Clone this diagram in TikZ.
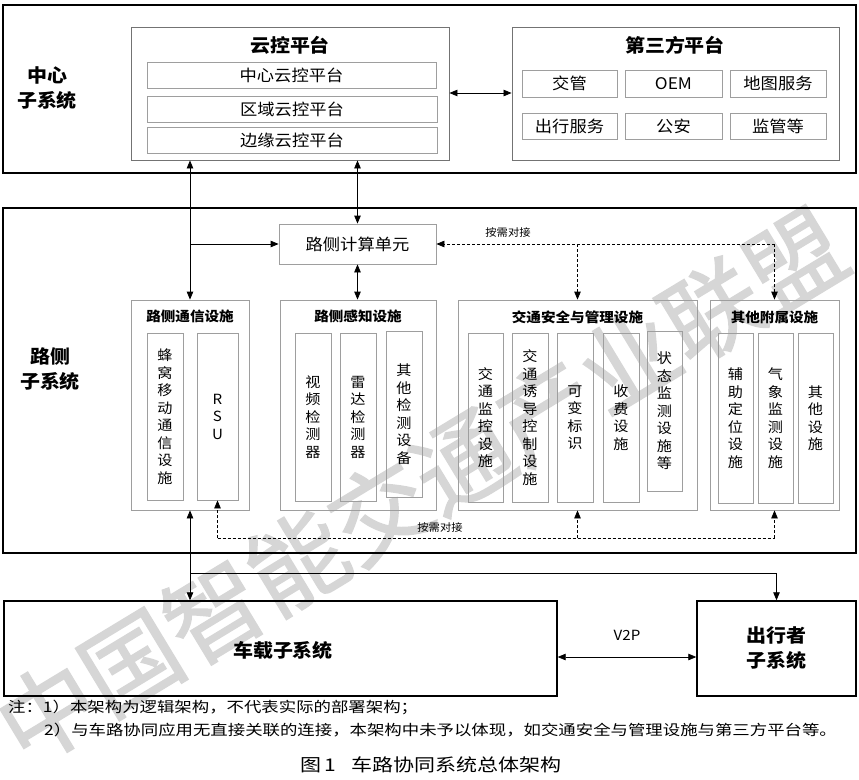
\documentclass[tikz,border=0pt]{standalone}
\usepackage{fontspec}
\setmainfont{Noto Sans CJK SC}[FakeStretch=1.08]
\newfontfamily\notefont{Noto Sans CJK SC}[FakeStretch=1.2]
\newfontfamily\wmfont{Noto Sans CJK SC}[FakeBold=1.5]
\usetikzlibrary{arrows.meta}
\tikzset{
  outerbox/.style={draw=black, line width=1.4pt, inner sep=0pt},
  grpbox/.style={draw=black!55, line width=0.9pt, inner sep=0pt},
  cellbox/.style={draw=black!38, line width=0.8pt, inner sep=0pt},
  vcell/.style={cellbox, align=center, font=\fontsize{14}{17.5}\selectfont},
  hcell/.style={cellbox, font=\fontsize{16}{19}\selectfont},
  bigttl/.style={font=\fontsize{18.5}{25}\selectfont\bfseries, inner sep=0pt, align=center},
  gttl/.style={font=\fontsize{13.5}{16}\selectfont\bfseries, inner sep=0pt},
  arr/.style={-{Triangle[length=8pt,width=6.5pt]}, line width=0.8pt},
  darr/.style={{Triangle[length=8pt,width=6.5pt]}-{Triangle[length=8pt,width=6.5pt]}, line width=0.8pt},
  dsh/.style={dash pattern=on 3pt off 2pt},
  lbl/.style={font=\fontsize{10.5}{13}\selectfont, inner sep=0pt},
}
\begin{document}
\begin{tikzpicture}[x=1pt,y=-1pt]
\useasboundingbox (0,0) rectangle (859,779);
% watermark
\node[rotate=31.2, text=black!16, font=\wmfont\fontsize{97}{97}\selectfont, inner sep=0pt] (wm) at (421,486) {中国智能交通产业联盟};

% ===== centre subsystem =====
\node[outerbox, minimum width=853pt, minimum height=168pt] (center) at (429.5,89) {};
\node[bigttl] (centerlbl) at (47,88) {中心\\子系统};

\node[grpbox, minimum width=318pt, minimum height=133pt] (cloud) at (290,93.5) {};
\node[bigttl] (cloudt) at (290,45) {云控平台};
\node[hcell, minimum width=289pt, minimum height=26pt] (c1) at (291.5,75) {中心云控平台};
\node[hcell, minimum width=290pt, minimum height=26pt] (c2) at (292,109) {区域云控平台};
\node[hcell, minimum width=290pt, minimum height=26pt] (c3) at (292,140) {边缘云控平台};

\node[grpbox, minimum width=327pt, minimum height=133pt] (third) at (675.5,93.5) {};
\node[bigttl] (thirdt) at (675,45) {第三方平台};
\node[hcell, minimum width=95pt, minimum height=27pt] (p1) at (569.5,83.5) {交管};
\node[hcell, minimum width=97pt, minimum height=27pt] (p2) at (673.5,83.5) {OEM};
\node[hcell, minimum width=96pt, minimum height=27pt] (p3) at (778,83.5) {地图服务};
\node[hcell, minimum width=95pt, minimum height=26pt] (p4) at (569.5,126) {出行服务};
\node[hcell, minimum width=97pt, minimum height=26pt] (p5) at (673.5,126) {公安};
\node[hcell, minimum width=96pt, minimum height=26pt] (p6) at (778,126) {监管等};

\draw[darr] (cloud.east |- 0,93) -- (third.west |- 0,93);

% ===== roadside subsystem =====
\node[outerbox, minimum width=853pt, minimum height=345pt] (road) at (429.5,380.5) {};
\node[bigttl] (roadlbl) at (50,369) {路侧\\子系统};

\node[cellbox, font=\fontsize{16}{19}\selectfont, minimum width=157pt, minimum height=40pt] (rsc) at (357.5,244) {路侧计算单元};

% group 1
\node[cellbox, minimum width=118pt, minimum height=210pt] (g1) at (190,405) {};
\node[gttl] (g1t) at (190,316) {路侧通信设施};
\node[vcell, minimum width=36pt, minimum height=167pt] (g1a) at (165,416.5) {蜂\\窝\\移\\动\\通\\信\\设\\施};
\node[vcell, minimum width=41pt, minimum height=167pt] (rsu) at (217.5,416.5) {R\\S\\U};

% group 2
\node[cellbox, minimum width=156pt, minimum height=210pt] (g2) at (358,405) {};
\node[gttl] (g2t) at (358,316) {路侧感知设施};
\node[vcell, minimum width=36pt, minimum height=168pt] (g2a) at (313,417) {视\\频\\检\\测\\器};
\node[vcell, minimum width=36pt, minimum height=168pt] (g2b) at (358,417) {雷\\达\\检\\测\\器};
\node[vcell, minimum width=36pt, minimum height=166pt] (g2c) at (404,414) {其\\他\\检\\测\\设\\备};

% group 3
\node[cellbox, minimum width=239pt, minimum height=210pt] (g3) at (577.5,405) {};
\node[gttl] (g3t) at (577.5,317) {交通安全与管理设施};
\node[vcell, minimum width=35pt, minimum height=169pt] (g3a) at (485.5,417.5) {交\\通\\监\\控\\设\\施};
\node[vcell, minimum width=36pt, minimum height=169pt] (g3b) at (530,417.5) {交\\通\\诱\\导\\控\\制\\设\\施};
\node[vcell, minimum width=36pt, minimum height=169pt] (g3c) at (575,417.5) {可\\变\\标\\识};
\node[vcell, minimum width=36pt, minimum height=169pt] (g3d) at (621,417.5) {收\\费\\设\\施};
\node[vcell, minimum width=35pt, minimum height=160pt] (g3e) at (664.5,411) {状\\态\\监\\测\\设\\施\\等};

% group 4
\node[cellbox, minimum width=129pt, minimum height=210pt] (g4) at (774.5,405) {};
\node[gttl] (g4t) at (774.5,317) {其他附属设施};
\node[vcell, minimum width=35pt, minimum height=170pt] (g4a) at (735.5,418) {辅\\助\\定\\位\\设\\施};
\node[vcell, minimum width=35pt, minimum height=170pt] (g4b) at (775.5,418) {气\\象\\监\\测\\设\\施};
\node[vcell, minimum width=35pt, minimum height=170pt] (g4c) at (815.5,418) {其\\他\\设\\施};

% connectors roadside <-> centre
\coordinate (j1) at (190,244);
\draw[darr] (190,0 |- cloud.south) -- (g1.north);
\draw[arr] (j1) -- (rsc.west);
\draw[darr] (357.5,0 |- cloud.south) -- (rsc.north);
\draw[darr] (rsc.south) -- (g2.north -| rsc.south);

% dashed top
\coordinate (dt1) at (774.5,244);
\coordinate (dt2) at (577.5,244);
\draw[arr, dsh] (dt1) -- (rsc.east);
\draw[arr, dsh] (dt1) -- (g4.north);
\draw[arr, dsh] (dt2) -- (g3.north);
\node[lbl] (lt) at (508,232) {按需对接};

% dashed bottom
\coordinate (db0) at (217.5,538);
\coordinate (db1) at (774.5,538);
\coordinate (db2) at (577.5,538);
\draw[arr, dsh] (db0) -- (rsu.south);
\draw[dsh, line width=0.8pt] (db0) -- (db1);
\draw[arr, dsh] (db1) -- (g4.south);
\draw[arr, dsh] (db2) -- (g3.south);
\node[lbl] (lb) at (440,527) {按需对接};

% ===== vehicle & traveller =====
\node[outerbox, minimum width=553pt, minimum height=95pt] (veh) at (280.5,648.5) {};
\node[bigttl] (vehl) at (283,650) {车载子系统};
\node[outerbox, minimum width=159pt, minimum height=95pt] (trav) at (776.5,648.5) {};
\node[bigttl] (travl) at (776.5,648) {出行者\\子系统};

\draw[darr] (g1.south) -- (190,0 |- veh.north);
\coordinate (j2) at (190,573);
\draw[arr, line width=0.8pt] (j2) -- (776.5,573) -- (trav.north);
\draw[darr] (veh.east |- 0,657) -- (trav.west |- 0,657);
\node[font=\fontsize{14}{16}\selectfont, inner sep=0pt] (v2p) at (627,635) {V2P};

% ===== notes & caption =====
\node[anchor=west, inner sep=0pt, font=\notefont\fontsize{14.5}{17}\selectfont] (n1) at (8,707) {注：1）本架构为逻辑架构，不代表实际的部署架构；};
\node[anchor=west, inner sep=0pt, font=\notefont\fontsize{14.5}{17}\selectfont] (n2) at (44,730) {2）与车路协同应用无直接关联的连接，本架构中未予以体现，如交通安全与管理设施与第三方平台等。};
\node[inner sep=0pt, font=\notefont\fontsize{17.5}{20}\selectfont] (cap) at (431,765) {图\,1\hspace{0.9em}车路协同系统总体架构};
\end{tikzpicture}
\end{document}
